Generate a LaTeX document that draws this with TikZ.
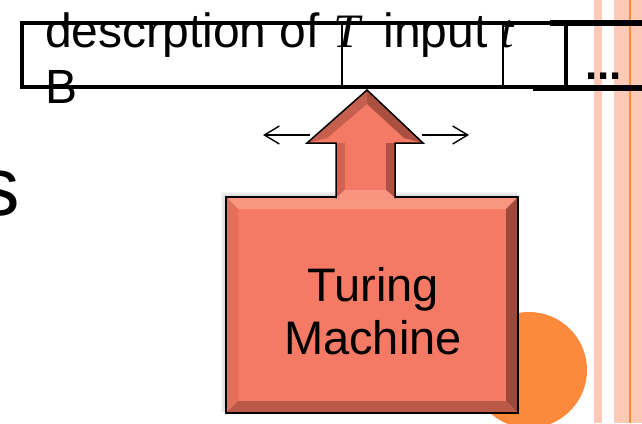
\documentclass[tikz,border=0pt]{standalone}
\usepackage{fontspec}
\setmainfont{Liberation Sans}
\newfontfamily\varfont{Liberation Serif}
\usepackage{xcolor}
\usetikzlibrary{arrows.meta, positioning}

\definecolor{tmfill}{RGB}{244,122,102}
\definecolor{tmlight}{RGB}{249,150,130}
\definecolor{tmside}{RGB}{232,110,92}
\definecolor{tmdark}{RGB}{158,72,58}
\definecolor{tmbottom}{RGB}{188,88,72}
\definecolor{disc}{RGB}{253,138,58}
\definecolor{stripe}{RGB}{252,202,183}
\definecolor{stripeline}{RGB}{250,140,62}

\begin{document}
\begin{tikzpicture}[x=1pt, y=-1pt,
    tapeline/.style={line width=4pt},
    tapeend/.style={line width=6pt},
    cellline/.style={line width=1.5pt},
    tapetext/.style={inner sep=0pt, anchor=base west,
      font=\fontsize{48}{56}\selectfont},
    machine/.style={draw, line width=2pt, fill=tmfill, inner sep=0pt,
      minimum width=290pt, minimum height=214pt},
    tmtext/.style={inner sep=0pt, align=center,
      font=\fontsize{47}{53}\selectfont},
    headmove/.style={-{Straight Barb[length=15pt, width=18pt]}, line width=1.4pt}
  ]
  \useasboundingbox (0,0) rectangle (642,423);
  \clip (0,0) rectangle (642,423);

  % slide decoration
  \fill[stripe] (594,0) rectangle (602,423);
  \fill[stripe] (614,0) rectangle (642,423);
  \draw[stripeline, line width=1.5pt] (630,0) -- (630,423);
  \fill[disc] (529,370) circle[radius=58];
  \node[inner sep=0pt, anchor=base west, font=\fontsize{83}{90}\selectfont]
    (cut) at (-22,215) {s};

  % tape
  \draw[tapeline] (550,23) -- (22,23) -- (22,87) -- (533,87);
  \draw[tapeend] (550,23) -- (642,23);
  \draw[tapeend] (533,88) -- (642,88);
  \draw[cellline] (342,23) -- (342,87);
  \draw[cellline] (503,23) -- (503,87);
  \draw[tapeline] (566,23) -- (566,87);
  \node[tapetext] (desc) at (45,47)
    {descrption of {\varfont\itshape T}\hspace{10pt} input {\varfont\itshape t}};
  \node[tapetext] (blank) at (45,103) {B};
  \node[tapetext, font=\fontsize{44}{50}\selectfont\bfseries] (more) at (585,79) {...};

  % head moves
  \coordinate (headl) at (310,135);
  \coordinate (headr) at (422,135);
  \coordinate (movel) at (263,135);
  \coordinate (mover) at (469,135);
  \draw[headmove] (headl) -- (movel);
  \draw[headmove] (headr) -- (mover);

  % machine box with bevel
  \foreach \s in {2,4,6}
    \fill[black, opacity=0.06] (227-\s,198-\s) rectangle (517,412);
  \node[machine] (tm) at (372,305) {};
  \fill[tmlight] (tm.north west) -- (tm.north east)
    -- ([shift={(-12,12)}]tm.north east) -- ([shift={(12,12)}]tm.north west) -- cycle;
  \fill[tmside] (tm.north west) -- ([shift={(12,12)}]tm.north west)
    -- ([shift={(12,-12)}]tm.south west) -- (tm.south west) -- cycle;
  \fill[tmdark] (tm.north east) -- (tm.south east)
    -- ([shift={(-12,-12)}]tm.south east) -- ([shift={(-12,12)}]tm.north east) -- cycle;
  \fill[tmbottom] (tm.south west) -- (tm.south east)
    -- ([shift={(-12,-12)}]tm.south east) -- ([shift={(12,-12)}]tm.south west) -- cycle;
  \draw[line width=2pt] (tm.north west) rectangle (tm.south east);
  \node[tmtext] (tmlabel) at (373,311) {Turing\\Machine};

  % read/write head arrow
  \coordinate (tip) at (367,90);
  \fill[tmfill] (tip) -- (423,143) -- (395,143) -- (395,198) -- (336,198)
    -- (336,143) -- (307,143) -- cycle;
  \fill[tmdark!85!tmfill] (tip) -- (423,143) -- (404,138) -- (367,104) -- cycle;
  \fill[tmdark!55!tmfill] (tip) -- (307,143) -- (327,138) -- (367,104) -- cycle;
  \fill[tmside!70!tmdark] (336,143) -- (336,198) -- (345,190) -- (345,143) -- cycle;
  \fill[tmdark!80!tmfill] (395,143) -- (395,198) -- (386,190) -- (386,143) -- cycle;
  \fill[tmlight] (336,198) -- (395,198) -- (386,190) -- (345,190) -- cycle;
  \draw[line width=1.5pt, line join=miter] (336,198) -- (336,143) -- (307,143)
    -- (tip) -- (423,143) -- (395,143) -- (395,198);
\end{tikzpicture}
\end{document}
